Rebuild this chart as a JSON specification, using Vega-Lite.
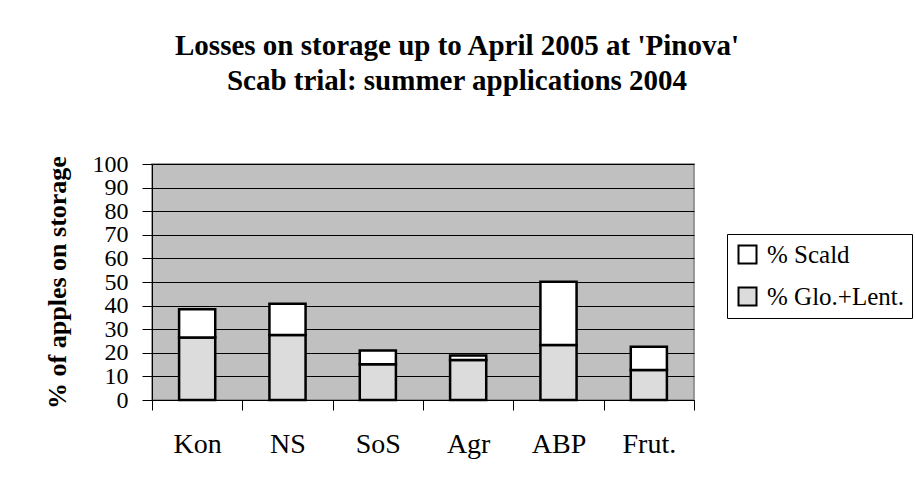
{
  "$schema": "https://vega.github.io/schema/vega-lite/v6.json",
  "width": 542,
  "height": 236,
  "autosize": {"type": "none"},
  "padding": {"left": 152, "top": 164, "right": 221, "bottom": 84},
  "background": "white",
  "title": {
    "text": ["Losses on storage up to April 2005 at 'Pinova'", "Scab trial: summer applications 2004"],
    "font": "Liberation Serif",
    "fontSize": 29,
    "fontWeight": "bold",
    "color": "black",
    "anchor": "middle",
    "dx": 34,
    "lineHeight": 35,
    "offset": 56
  },
  "data": {
    "values": [
      {"treatment": "Kon", "series": "% Glo.+Lent.", "value": 26.5},
      {"treatment": "Kon", "series": "% Scald", "value": 12.0},
      {"treatment": "NS", "series": "% Glo.+Lent.", "value": 27.5},
      {"treatment": "NS", "series": "% Scald", "value": 13.3},
      {"treatment": "SoS", "series": "% Glo.+Lent.", "value": 15.2},
      {"treatment": "SoS", "series": "% Scald", "value": 5.8},
      {"treatment": "Agr", "series": "% Glo.+Lent.", "value": 17.0},
      {"treatment": "Agr", "series": "% Scald", "value": 1.9},
      {"treatment": "ABP", "series": "% Glo.+Lent.", "value": 23.3},
      {"treatment": "ABP", "series": "% Scald", "value": 26.8},
      {"treatment": "Frut.", "series": "% Glo.+Lent.", "value": 12.7},
      {"treatment": "Frut.", "series": "% Scald", "value": 9.9}
    ]
  },
  "mark": {"type": "bar", "width": {"band": 0.4}, "stroke": "black", "strokeWidth": 2.5},
  "encoding": {
    "x": {
      "field": "treatment",
      "type": "nominal",
      "sort": null,
      "scale": {"paddingInner": 0, "paddingOuter": 0},
      "axis": {
        "title": null,
        "labelAngle": 0,
        "labelFont": "Liberation Serif",
        "labelFontSize": 28,
        "labelColor": "black",
        "labelPadding": 20,
        "tickSize": 10,
        "tickColor": "black",
        "tickBand": "extent",
        "domainColor": "black",
        "grid": false
      }
    },
    "y": {
      "field": "value",
      "type": "quantitative",
      "stack": "zero",
      "scale": {"domain": [0, 100], "nice": false},
      "axis": {
        "title": "% of apples on storage",
        "titleFont": "Liberation Serif",
        "titleFontSize": 26,
        "titleFontWeight": "bold",
        "titleColor": "black",
        "titlePadding": 22,
        "values": [0, 10, 20, 30, 40, 50, 60, 70, 80, 90, 100],
        "labelFont": "Liberation Serif",
        "labelFontSize": 24,
        "labelColor": "black",
        "labelPadding": 14,
        "labelOverlap": false,
        "labelFlush": false,
        "tickSize": 10,
        "tickColor": "black",
        "domainColor": "black",
        "gridColor": "black",
        "gridWidth": 1,
        "gridOpacity": 1
      }
    },
    "color": {
      "field": "series",
      "type": "nominal",
      "scale": {"domain": ["% Scald", "% Glo.+Lent."], "range": ["#ffffff", "#dcdcdc"]},
      "legend": {
        "title": null,
        "orient": "none",
        "legendX": 575,
        "legendY": 70,
        "strokeColor": "black",
        "fillColor": "white",
        "padding": 8,
        "labelFont": "Liberation Serif",
        "labelFontSize": 25,
        "labelColor": "black",
        "symbolType": "square",
        "symbolSize": 324,
        "symbolStrokeColor": "black",
        "symbolStrokeWidth": 2,
        "symbolOpacity": 1,
        "rowPadding": 15,
        "labelOffset": 7
      }
    },
    "order": {"field": "series", "sort": "ascending"}
  },
  "config": {"view": {"fill": "#c0c0c0", "stroke": "#808080", "strokeWidth": 1.5}}
}
